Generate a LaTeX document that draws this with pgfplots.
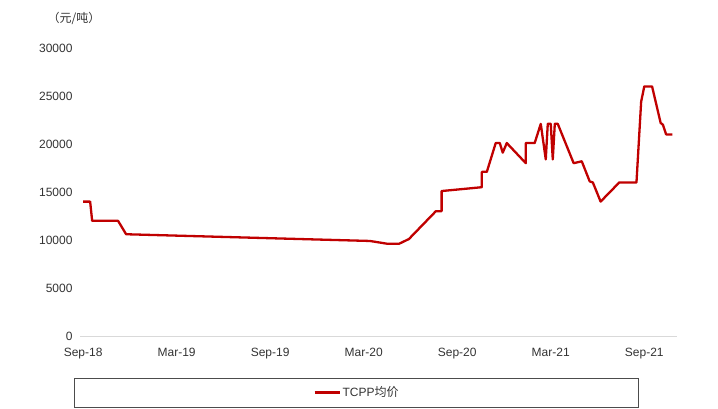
\documentclass[border=0pt]{standalone}
\usepackage{fontspec}
\setmainfont{Liberation Sans}
\newfontfamily\cjk{Noto Sans CJK SC}
\usepackage{pgfplots}
\pgfplotsset{compat=1.18}
\definecolor{linered}{HTML}{C00000}
\definecolor{txt}{HTML}{333333}
\begin{document}
\begin{tikzpicture}
\path[use as bounding box] (0pt,0pt) rectangle (718pt,408pt);
\begin{axis}[
  at={(80pt,72pt)}, anchor=south west,
  scale only axis, width=597pt, height=288pt,
  xmin=-0.2, xmax=38.1, ymin=0, ymax=30000,
  axis x line*=bottom, axis y line*=left,
  x axis line style={draw=black!15, line width=0.8pt},
  y axis line style={draw=none},
  major tick length=0pt,
  xtick={0,6,12,18,24,30,36},
  xticklabels={Sep-18,Mar-19,Sep-19,Mar-20,Sep-20,Mar-21,Sep-21},
  ytick={0,5000,10000,15000,20000,25000,30000},
  scaled y ticks=false,
  /pgf/number format/assume math mode=true,
  /pgf/number format/fixed,
  /pgf/number format/set thousands separator={},
  ticklabel style={font=\fontsize{12}{14}\selectfont, text=txt},
  xticklabel style={yshift=-9pt},
  yticklabel style={xshift=-4pt},
  legend style={at={(0.464,-0.196)}, anchor=center, draw=none, fill=none,
    font=\fontsize{12}{14}\selectfont, text=txt},
  legend image code/.code={\draw[#1] (0pt,0pt) -- (25pt,0pt);},
  clip=false,
]
\addplot[linered, line width=2.3pt, line join=round] coordinates {
(0,14000) (0.45,14000) (0.58,12000) (2.24,12000) (2.76,10600)
(18.4,9900) (19.55,9600) (20.26,9600) (20.9,10100) (22.63,13000)
(23.0,13000) (23.0,15100) (25.58,15500) (25.58,17100) (25.9,17100)
(26.47,20100) (26.73,20100) (26.92,19100) (27.18,20100) (28.4,18000)
(28.4,20100) (28.97,20100) (29.36,22100) (29.68,18400) (29.81,22100)
(30.0,22100) (30.13,18400) (30.26,22100) (30.45,22100) (31.47,18000)
(31.99,18200) (32.5,16100) (32.7,16000) (33.2,14000) (34.4,16000)
(35.5,16000) (35.8,24400) (36.0,26000) (36.5,26000) (37.05,22200)
(37.2,22000) (37.4,21000) (37.8,21000)
};
\addlegendentry{TCPP{\cjk 均价}}
\end{axis}
\draw[black!70, line width=0.9pt] (74pt,1pt) rectangle (638pt,30pt);
\node[font=\cjk\fontsize{12}{14}\selectfont, text=txt] at (74pt,390pt) {（元/吨）};
\end{tikzpicture}
\end{document}
